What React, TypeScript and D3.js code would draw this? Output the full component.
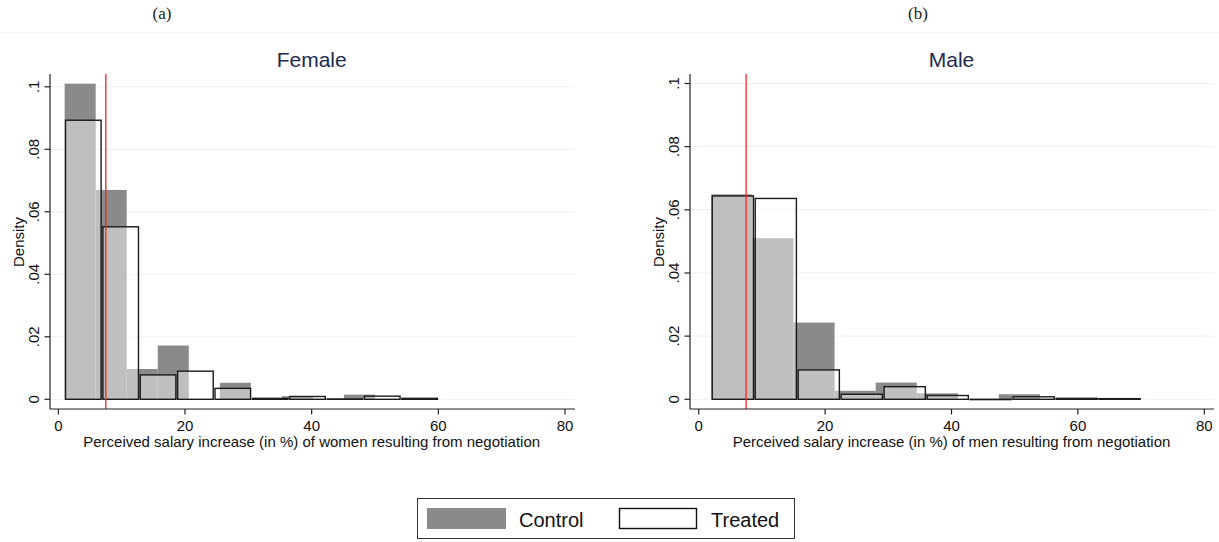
import React from "react";
import * as d3 from "d3";

// densities, 10 equal-width bins per group
const femaleControl = [0.101, 0.067, 0.0097, 0.0172, 0, 0.0053, 0, 0.001, 0, 0.0015];
const femaleTreated = [0.0893, 0.0552, 0.0078, 0.009, 0.0035, 0.0003, 0.0009, 0.0001, 0.001, 0.0003];
const maleControl = [0.0649, 0.051, 0.0243, 0.0027, 0.0053, 0.0019, 0, 0.0016, 0, 0.0003];
const maleTreated = [0.0644, 0.0636, 0.0093, 0.0016, 0.004, 0.0012, 0, 0.0008, 0.0003, 0.0002];

// [min, max] of the binned variable for each group
const femaleControlRange = [1, 50];
const femaleTreatedRange = [1, 60];
const maleControlRange = [2, 67];
const maleTreatedRange = [2, 70];

const xTicks = [0, 20, 40, 60, 80];
const yTicks = [0, 0.02, 0.04, 0.06, 0.08, 0.1];
const yTickLabels = ["0", ".02", ".04", ".06", ".08", ".1"];
const refLine = 7.5;

const font = "'Liberation Sans', Arial, sans-serif";
const controlFill = "#8a8a8a";
const gridColor = "#eaf2f3";

function edges(range: number[], n: number) {
  const w = (range[1] - range[0]) / n;
  return d3.range(n + 1).map((i) => range[0] + i * w);
}

type PanelProps = {
  x0: number;
  x80: number;
  yTop: number; // pixel of density .1
  axisX: number;
  plotRight: number;
  tagX: number;
  title: string;
  tag: string;
  xLabel: string;
  control: number[];
  treated: number[];
  controlRange: number[];
  treatedRange: number[];
};

function Panel(p: PanelProps) {
  const x = d3.scaleLinear().domain([0, 80]).range([p.x0, p.x80]);
  const y = d3.scaleLinear().domain([0, 0.1]).range([399.3, p.yTop]);
  const plotTop = 74;
  const axisY = 409;
  const cEdges = edges(p.controlRange, p.control.length);
  const tEdges = edges(p.treatedRange, p.treated.length);
  const cx = (x(0) + x(80)) / 2;

  return (
    <g>
      <text x={p.tagX} y={19} textAnchor="middle" fontFamily="'Liberation Serif', 'DejaVu Serif', serif" fontSize={17} fill="#222">
        {p.tag}
      </text>
      <text x={cx} y={67} textAnchor="middle" fontFamily={font} fontSize={21} fill="#1e2a4e">
        {p.title}
      </text>
      {yTicks.map((t) => (
        <line key={t} x1={p.axisX} x2={p.plotRight} y1={y(t)} y2={y(t)} stroke={gridColor} strokeWidth={1} />
      ))}
      {p.control.map((v, i) =>
        v > 0 ? (
          <rect key={"c" + i} x={x(cEdges[i])} width={x(cEdges[i + 1]) - x(cEdges[i])} y={y(v)} height={y(0) - y(v)} fill={controlFill} />
        ) : null
      )}
      {p.treated.map((v, i) => (
        <rect
          key={"t" + i}
          x={x(tEdges[i]) + 0.9}
          width={x(tEdges[i + 1]) - x(tEdges[i]) - 1.8}
          y={y(v)}
          height={Math.max(y(0) - y(v), 0.3)}
          fill="#ffffff"
          fillOpacity={0.45}
          stroke="#1a1a1a"
          strokeWidth={1.4}
        />
      ))}
      <line x1={x(refLine)} x2={x(refLine)} y1={plotTop} y2={axisY} stroke="#ff2020" strokeWidth={1.3} />
      <line x1={p.axisX} x2={p.axisX} y1={plotTop} y2={axisY} stroke="#222" strokeWidth={1.2} />
      <line x1={p.axisX} x2={p.plotRight} y1={axisY} y2={axisY} stroke="#222" strokeWidth={1.2} />
      {yTicks.map((t, i) => (
        <g key={"yt" + t}>
          <line x1={p.axisX - 5.5} x2={p.axisX} y1={y(t)} y2={y(t)} stroke="#222" strokeWidth={1.2} />
          <text
            transform={`translate(${p.axisX - 11},${y(t)}) rotate(-90)`}
            textAnchor="middle"
            fontFamily={font}
            fontSize={15}
            fill="#111"
          >
            {yTickLabels[i]}
          </text>
        </g>
      ))}
      <text transform={`translate(${p.axisX - 26},242) rotate(-90)`} textAnchor="middle" fontFamily={font} fontSize={15} fill="#111">
        Density
      </text>
      {xTicks.map((t) => (
        <g key={"xt" + t}>
          <line x1={x(t)} x2={x(t)} y1={axisY} y2={axisY + 5.5} stroke="#222" strokeWidth={1.2} />
          <text x={x(t)} y={431} textAnchor="middle" fontFamily={font} fontSize={15} fill="#111">
            {t}
          </text>
        </g>
      ))}
      <text x={cx} y={447} textAnchor="middle" fontFamily={font} fontSize={15} fill="#111">
        {p.xLabel}
      </text>
    </g>
  );
}

export default function App() {
  return (
    <svg width={1219} height={542} style={{ position: "absolute", left: 0, top: 0, background: "#fff" }}>
      <rect width={1219} height={542} fill="#fff" />
      <line x1={0} x2={1219} y1={32.5} y2={32.5} stroke="#f5f5f5" strokeWidth={1} />
      <Panel
        x0={58.3}
        x80={565}
        yTop={86.8}
        axisX={50}
        plotRight={575}
        tagX={162}
        title="Female"
        tag="(a)"
        xLabel="Perceived salary increase (in %) of women resulting from negotiation"
        control={femaleControl}
        treated={femaleTreated}
        controlRange={femaleControlRange}
        treatedRange={femaleTreatedRange}
      />
      <Panel
        x0={698.7}
        x80={1204.3}
        yTop={83.5}
        axisX={690}
        plotRight={1214}
        tagX={918}
        title="Male"
        tag="(b)"
        xLabel="Perceived salary increase (in %) of men resulting from negotiation"
        control={maleControl}
        treated={maleTreated}
        controlRange={maleControlRange}
        treatedRange={maleTreatedRange}
      />
      <g fontFamily={font} fontSize={20} fill="#111">
        <rect x={417.5} y={498.5} width={377} height={40} fill="#fff" stroke="#333" strokeWidth={1} />
        <rect x={427} y={508} width={79} height={21} fill={controlFill} />
        <text x={519} y={526.5}>Control</text>
        <rect x={619.5} y={508.5} width={77} height={20} fill="#fff" stroke="#111" strokeWidth={1.4} />
        <text x={711} y={526.5}>Treated</text>
      </g>
    </svg>
  );
}
